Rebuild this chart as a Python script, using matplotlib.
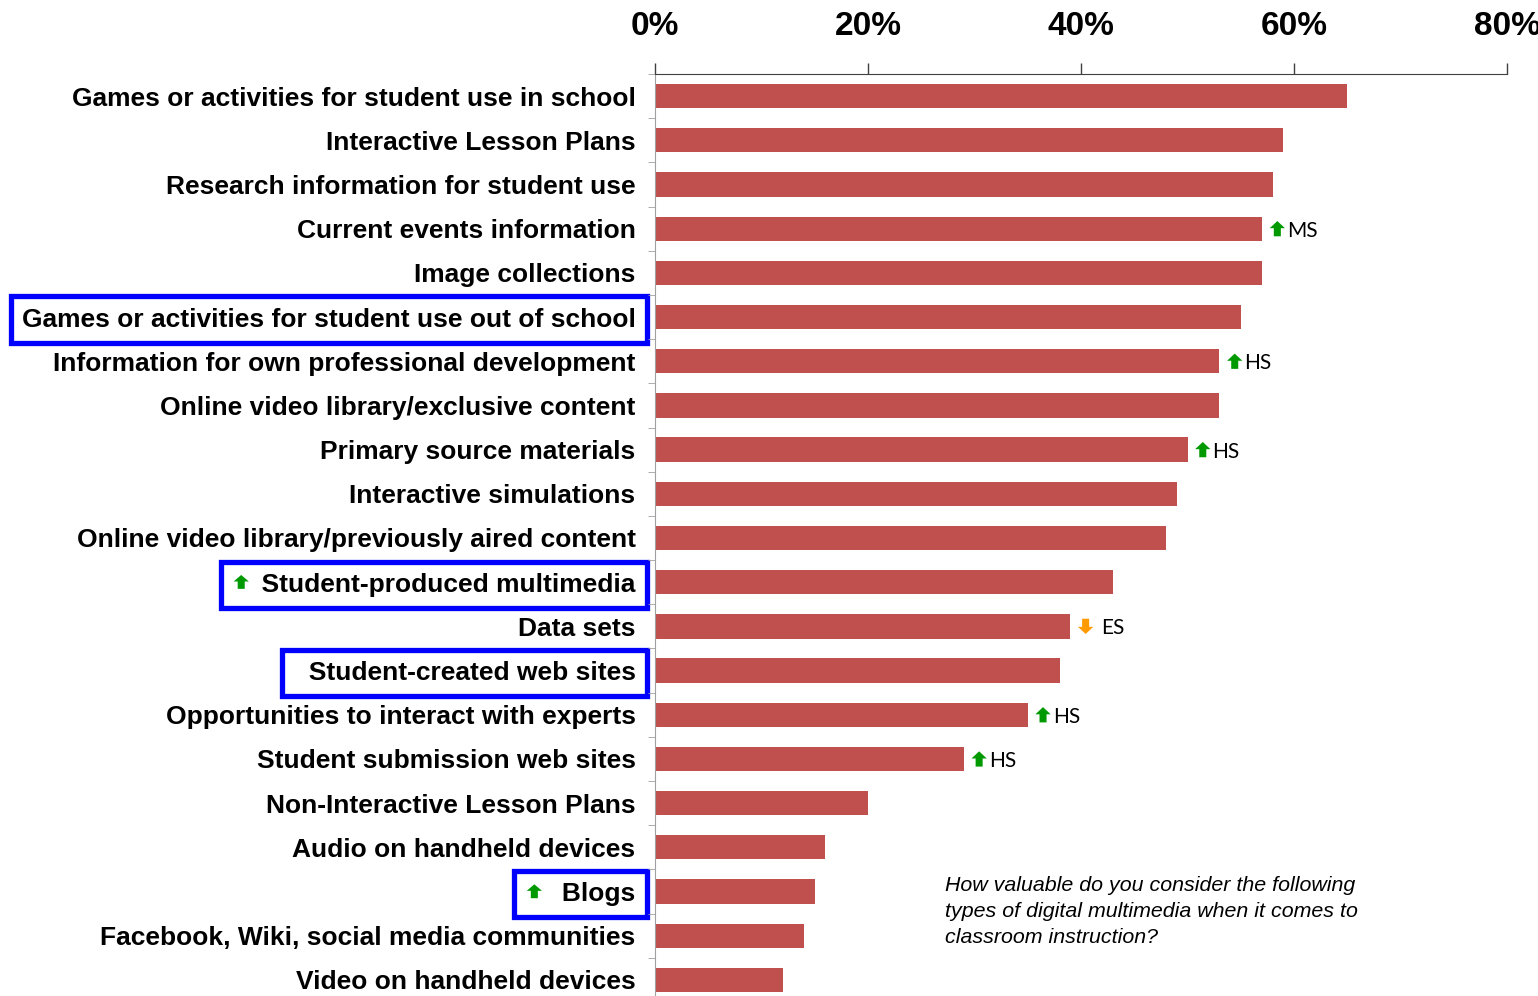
import matplotlib.pyplot as plt
from matplotlib.ticker import FixedLocator
from matplotlib.offsetbox import DrawingArea, AnnotationBbox
from matplotlib.patches import Polygon

categories = [
    "Games or activities for student use in school",
    "Interactive Lesson Plans",
    "Research information for student use",
    "Current events information",
    "Image collections",
    "Games or activities for student use out of school",
    "Information for own professional development",
    "Online video library/exclusive content",
    "Primary source materials",
    "Interactive simulations",
    "Online video library/previously aired content",
    "Student-produced multimedia",
    "Data sets",
    "Student-created web sites",
    "Opportunities to interact with experts",
    "Student submission web sites",
    "Non-Interactive Lesson Plans",
    "Audio on handheld devices",
    "Blogs",
    "Facebook, Wiki, social media communities",
    "Video on handheld devices",
]
values = [65, 59, 58, 57, 57, 55, 53, 53, 50, 49, 48, 43, 39, 38, 35, 29, 20, 16, 15, 14, 12]

# school level with a notable difference: row -> (direction, level)
notes = {3: ("up", "MS"), 6: ("up", "HS"), 8: ("up", "HS"), 12: ("down", "ES"),
         14: ("up", "HS"), 15: ("up", "HS")}
# highlighted rows -> leading blanks inside the frame
boxed = {5: 0, 11: 4, 13: 2, 18: 5}
label_arrows = [11, 18]

question = ("How valuable do you consider the following\n"
            "types of digital multimedia when it comes to\n"
            "classroom instruction?")

bar_color = "#C0504D"
up_color = "#009A00"
down_color = "#FF9A00"
label_font = ["Liberation Sans", "DejaVu Sans"]


def block_arrow(color, up=True, w=11, h=11):
    da = DrawingArea(w, h)
    pts = [(0, 0.53 * h), (w / 2, h), (w, 0.53 * h), (0.73 * w, 0.53 * h),
           (0.73 * w, 0), (0.27 * w, 0), (0.27 * w, 0.53 * h)]
    if not up:
        pts = [(px, h - py) for px, py in pts]
    da.add_artist(Polygon(pts, closed=True, facecolor=color, edgecolor="none"))
    return da


fig = plt.figure(figsize=(15.38, 9.96), dpi=100)
ax = fig.add_axes([655 / 1538, 1 - 1002 / 996, 852 / 1538, 928 / 996])

y = range(len(categories))
ax.barh(y, values, height=0.55, color=bar_color, zorder=2)
ax.set_xlim(0, 80)
ax.set_ylim(len(categories) - 0.5, -0.5)

# x axis on top
ax.xaxis.tick_top()
ax.set_xticks([0, 20, 40, 60, 80])
ax.set_xticklabels([f"{t}%" for t in [0, 20, 40, 60, 80]])
ax.tick_params(axis="x", direction="out", length=8, width=1, color="#404040", pad=15)
for lbl in ax.get_xticklabels():
    lbl.set_fontfamily(label_font)
    lbl.set_fontweight("bold")
    lbl.set_fontsize(24)

# category labels
shown = [" " * boxed.get(i, 0) + c for i, c in enumerate(categories)]
ax.set_yticks(list(y))
ax.set_yticklabels(shown)
ax.yaxis.set_minor_locator(FixedLocator([i - 0.5 for i in range(len(categories) + 1)]))
ax.tick_params(axis="y", which="major", length=0, pad=14)
ax.tick_params(axis="y", which="minor", length=5, color="#A0A0A0", direction="out")
for i, t in enumerate(ax.yaxis.get_major_ticks()):
    lbl = t.label1
    lbl.set_fontfamily(label_font)
    lbl.set_fontweight("bold")
    lbl.set_fontsize(19)
    if i in boxed:
        lbl.set_bbox(dict(boxstyle="square,pad=0.42", facecolor="white",
                          edgecolor="#0000FF", linewidth=3.8))
    if i in label_arrows:
        ab = AnnotationBbox(block_arrow(up_color, w=11, h=10), xy=(0, 0.5), xycoords=lbl,
                            xybox=(1, 2), boxcoords="offset points", box_alignment=(0, 0.5),
                            frameon=False, pad=0, annotation_clip=False)
        ax.add_artist(ab)

for s in ["right", "bottom"]:
    ax.spines[s].set_visible(False)
ax.spines["top"].set_color("#404040")
ax.spines["left"].set_color("#A0A0A0")

# level notes beside bars
for i, (direction, level) in notes.items():
    up = direction == "up"
    ab = AnnotationBbox(block_arrow(up_color if up else down_color, up=up),
                        xy=(values[i], i), xycoords="data", xybox=(11, 0),
                        boxcoords="offset points", box_alignment=(0.5, 0.5),
                        frameon=False, pad=0)
    ax.add_artist(ab)
    ax.annotate(level, xy=(values[i], i), xytext=(18 if up else 22, -1.5),
                textcoords="offset points", ha="left", va="center", color="black",
                fontsize=15, fontfamily="Lato")

fig.text(945 / 1538, 1 - 876 / 996, question, ha="left", va="top", fontsize=15.4,
         style="italic", fontfamily="Liberation Sans", linespacing=1.48)

fig.savefig("out.png", dpi=100)
